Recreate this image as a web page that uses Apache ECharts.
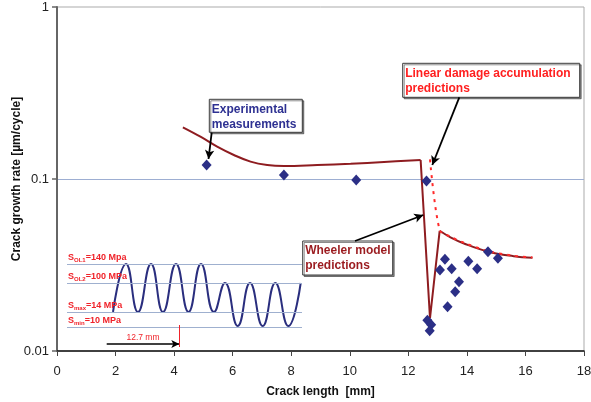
<!DOCTYPE html>
<html><head><meta charset="utf-8">
<script src="https://cdn.jsdelivr.net/npm/echarts@6/dist/echarts.min.js"></script>
<style>html,body{margin:0;padding:0;background:#fff}#c{width:591px;height:402px}</style>
</head><body><div id="c"></div>
<script>
// ---- main chart data ----
const yTickLabels = ['0.01', '0.1', '1'];
const expX = [5.11, 7.75, 10.22, 12.62, 12.65, 12.78, 12.73, 13.08, 13.25, 13.48, 13.73, 13.60, 13.34, 14.05, 14.35, 14.72, 15.06];
const expY = [0.1206, 0.1055, 0.0987, 0.0973, 0.0151, 0.0142, 0.0131, 0.0296, 0.0341, 0.0301, 0.0253, 0.0221, 0.0181, 0.0332, 0.0301, 0.0377, 0.0346];
const wheelerPreX = [4.30, 4.90, 5.47, 6.04, 6.61, 7.18, 7.75, 8.89, 10.03, 11.17, 12.42];
const wheelerPreY = [0.1998, 0.1762, 0.1542, 0.1379, 0.1262, 0.1206, 0.1190, 0.1206, 0.1227, 0.1256, 0.1290];
const wheelerDropX = [12.42, 12.74, 13.07];
const wheelerDropY = [0.1290, 0.0155, 0.0500];
const wheelerPostX = [13.07, 13.44, 13.90, 14.72, 15.60, 16.24];
const wheelerPostY = [0.0500, 0.0458, 0.0422, 0.0378, 0.0356, 0.0348];
const linearX = [12.74, 13.07, 13.44, 13.90, 14.72, 15.60, 16.24];
const linearY = [0.130, 0.0505, 0.0462, 0.0426, 0.0381, 0.0358, 0.0350];

// ---- inset (load sequence schematic) data ----
const waveX = [56, 69, 81, 94, 106, 119, 131.5, 144, 157, 168, 180.7, 193, 205.7, 218.3, 231.3, 243.7];
const waveY = [38, 86, 38, 86, 38, 86, 38, 86, 38, 67, 24, 67, 24, 67, 24, 67];
const levelSub = ['OL1', 'OL2', 'max', 'min'];
const levelMPa = [140, 100, 14, 10];
const levelUnit = ['Mpa', 'MPa', 'MPa', 'MPa'];
const levelY = [86, 67, 38, 23];
const spanLabel = '12.7 mm';

const pairs = (xs, ys) => xs.map((x, i) => [x, ys[i]]);
const RED = '#F0232A', NAVY = '#2B2F86', DRED = '#8E1C20';
const FONT = 'Arial, "Liberation Sans", sans-serif';

const chart = echarts.init(document.getElementById('c'), null, {renderer: 'canvas'});

function box(x, y, w, h, text, color) {
  return {
    type: 'group', z: 100,
    children: [
      {type: 'rect', shape: {x: x, y: y, width: w, height: h},
       style: {fill: '#fff', stroke: '#3a3a3a', lineWidth: 1, shadowColor: 'rgba(0,0,0,0.45)', shadowOffsetX: 1.5, shadowOffsetY: 1.5, shadowBlur: 0}},
      {type: 'text', style: {x: x + 2.5, y: y + 2.5, text: text, fill: color, font: 'bold 12px ' + FONT, lineHeight: 15, verticalAlign: 'top'}}
    ]
  };
}

const levelLines = levelY.map((v, i) => [
  {coord: [10, v], label: {show: true, position: 'insideStartTop', distance: 1,
    formatter: '{s|S}{b|' + levelSub[i] + '}{s|=' + levelMPa[i] + ' ' + levelUnit[i] + '}'}},
  {coord: [245, v]}
]);

const option = {
  animation: false,
  grid: [
    {left: 57, right: 7, top: 7, bottom: 51, show: true, borderColor: '#ababab', borderWidth: 1, outerBoundsMode: 'none', containLabel: false},
    {left: 57, top: 255, width: 250, height: 95, outerBoundsMode: 'none', containLabel: false}
  ],
  xAxis: [
    {type: 'value', min: 0, max: 18, interval: 2, gridIndex: 0,
     name: 'Crack length  [mm]', nameLocation: 'middle', nameGap: 35,
     nameTextStyle: {fontFamily: FONT, fontSize: 12, fontWeight: 'bold', color: '#111'},
     axisLine: {lineStyle: {color: '#111', width: 1.5}},
     axisTick: {show: true, length: 5, lineStyle: {color: '#444'}},
     axisLabel: {fontFamily: FONT, fontSize: 13, color: '#222', margin: 14},
     splitLine: {show: false}},
    {type: 'value', min: 0, max: 250, gridIndex: 1, show: false}
  ],
  yAxis: [
    {type: 'log', logBase: 10, min: 0.01, max: 1, gridIndex: 0,
     name: 'Crack growth rate [µm/cycle]', nameLocation: 'middle', nameGap: 34, nameMoveOverlap: false,
     nameTextStyle: {fontFamily: FONT, fontSize: 12, fontWeight: 'bold', color: '#111'},
     axisLine: {lineStyle: {color: '#666', width: 2}},
     axisTick: {show: true, length: 5, lineStyle: {color: '#666', width: 1.5}},
     axisLabel: {fontFamily: FONT, fontSize: 13, color: '#222', margin: 8,
       formatter: v => yTickLabels[Math.round(Math.log10(v)) + 2]},
     splitLine: {show: true, lineStyle: {color: ['rgba(0,0,0,0)', '#9DAED2', 'rgba(0,0,0,0)'], width: 1.2}}},
    {type: 'value', min: 0, max: 95, gridIndex: 1, show: false}
  ],
  series: [
    {type: 'line', name: 'wave', xAxisIndex: 1, yAxisIndex: 1, z: 2, smooth: 0.5,
     symbol: 'none', data: pairs(waveX, waveY),
     lineStyle: {color: '#2A2E7E', width: 2},
     markLine: {silent: true, symbol: 'none', animation: false,
       lineStyle: {color: '#9FB0CF', width: 1, type: 'solid'},
       label: {fontFamily: FONT, color: RED, rich: {
         s: {fontSize: 9, fontWeight: 'bold', color: RED, fontFamily: FONT, lineHeight: 10, verticalAlign: 'top'},
         b: {fontSize: 6, fontWeight: 'bold', color: RED, fontFamily: FONT, lineHeight: 10, verticalAlign: 'bottom'}}},
       data: levelLines.concat([
         [{coord: [49.7, 6], lineStyle: {color: '#000', width: 1.5},
           label: {show: true, position: 'middle', formatter: spanLabel, color: RED, fontSize: 8.5, fontFamily: FONT, distance: 2}},
          {coord: [122.3, 6], symbol: 'arrow', symbolSize: [6, 8]}],
         [{coord: [122.3, 25], lineStyle: {color: RED, width: 1}, label: {show: false}}, {coord: [122.3, 3]}]
       ])}},
    {type: 'line', name: 'Wheeler pre', z: 3, smooth: 0.4, symbol: 'none',
     data: pairs(wheelerPreX, wheelerPreY), lineStyle: {color: DRED, width: 2}},
    {type: 'line', name: 'Wheeler drop', z: 3, symbol: 'none',
     data: pairs(wheelerDropX, wheelerDropY), lineStyle: {color: DRED, width: 2}},
    {type: 'line', name: 'Wheeler post', z: 3, smooth: 0.4, symbol: 'none',
     data: pairs(wheelerPostX, wheelerPostY), lineStyle: {color: DRED, width: 2}},
    {type: 'line', name: 'Linear damage', z: 4, smooth: 0.3, symbol: 'none',
     data: pairs(linearX, linearY), lineStyle: {color: '#FF2A2A', width: 2, type: [3, 5]}},
    {type: 'scatter', name: 'Experimental', z: 5, symbol: 'diamond', symbolSize: [10, 11],
     data: pairs(expX, expY), itemStyle: {color: NAVY, opacity: 1},
     markLine: {silent: true, symbol: ['none', 'arrow'], symbolSize: [7, 9], animation: false,
       lineStyle: {color: '#000', width: 1.8, type: 'solid'}, label: {show: false},
       data: [
         [{x: 211.7, y: 132.7}, {x: 208.5, y: 159}],
         [{x: 459.3, y: 97.3}, {x: 432.3, y: 165}],
         [{x: 355, y: 241}, {x: 423.3, y: 215}]
       ]}}
  ],
  graphic: [
    box(209.3, 99.3, 93, 33, 'Experimental\nmeasurements', '#2E3192'),
    box(402.7, 63.3, 177, 34, 'Linear damage accumulation\npredictions', '#FF1F1F'),
    box(302.7, 241, 90, 34, 'Wheeler model\npredictions', '#9B1B1F')
  ]
};
chart.setOption(option);
</script></body></html>
